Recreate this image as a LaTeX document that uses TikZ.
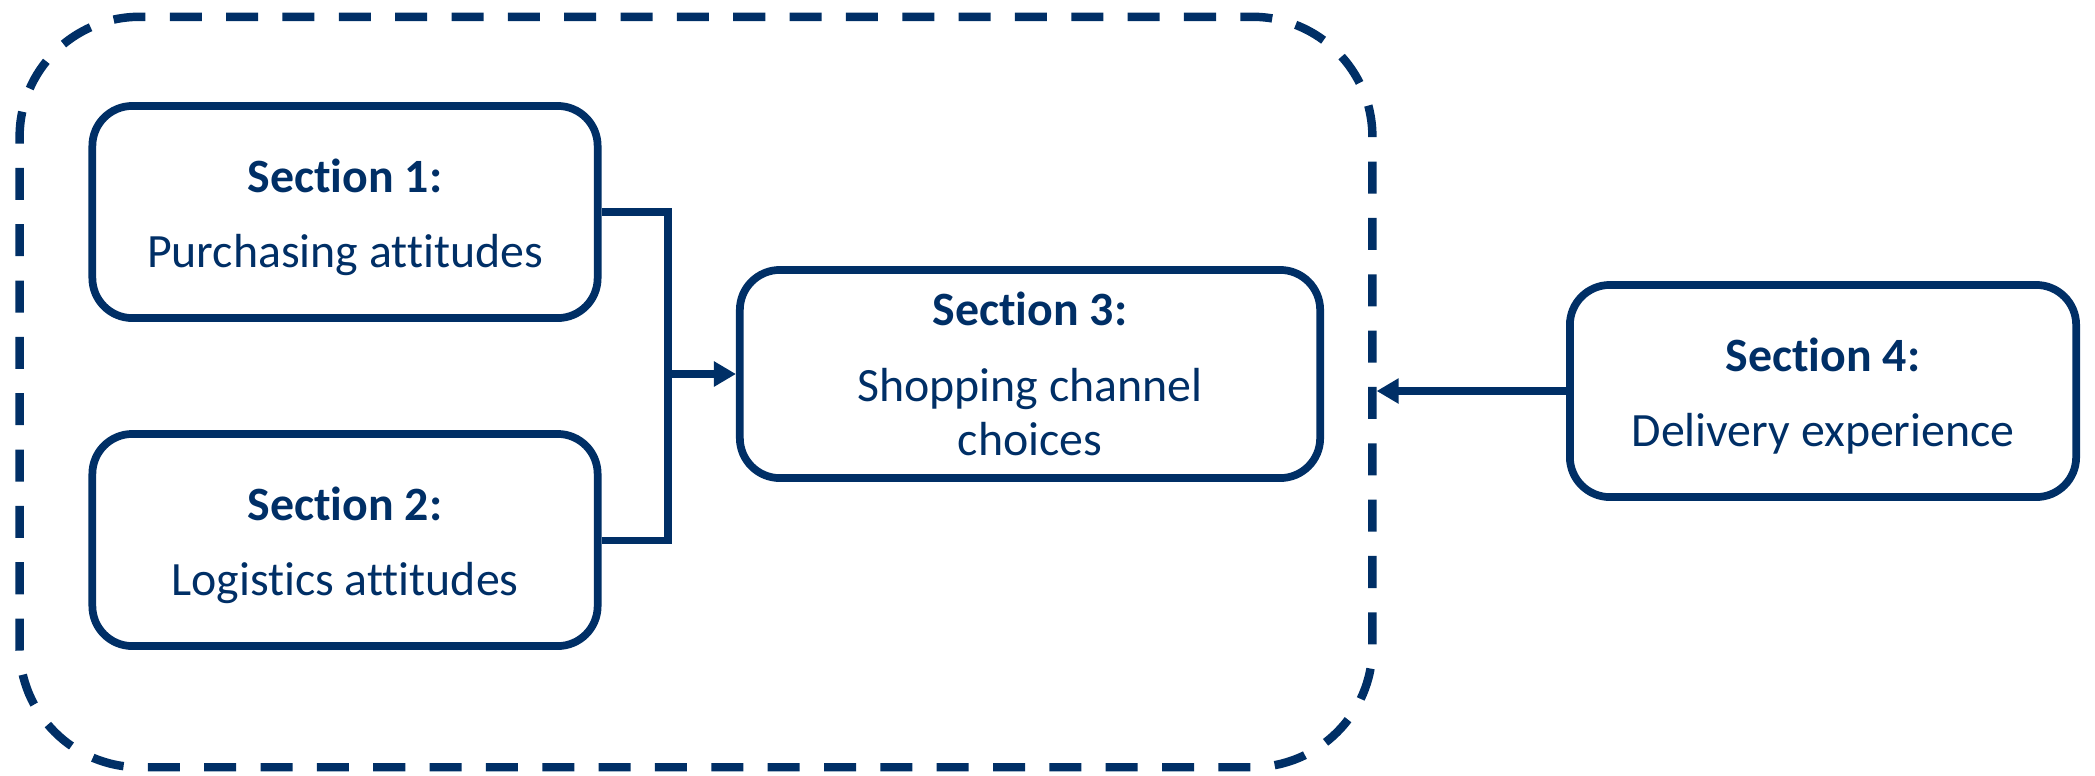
\documentclass[tikz,border=0pt]{standalone}
\usepackage{fontspec}
\setmainfont{Carlito}[Ligatures=NoCommon]
\usetikzlibrary{arrows.meta}
\definecolor{navy}{RGB}{0,47,102}
\newcommand{\headstrut}{\rule{0pt}{12.5pt}}
\tikzset{
	secbox/.style={draw=navy, line width=2.2pt, rounded corners=0.4cm, fill=white,
		text=navy, align=center, inner sep=0pt,
		font=\fontsize{13.6}{15.4}\selectfont},
	groupframe/.style={draw=navy, line width=2.4pt, rounded corners=1.2cm,
		dash pattern=on 0.32cm off 0.2431cm, dash phase=0.2cm, inner sep=0pt},
	link/.style={draw=navy, line width=2pt},
	linkarrow/.style={link, -{Triangle[length=0.22cm,width=0.24cm]}}
}

\begin{document}
\begin{tikzpicture}[x=0.01cm, y=-0.01cm]
			%%%%% START %%%%%
			\useasboundingbox (0, 0) rectangle (2095, 775);
			
			% dashed group round sections 1-3
			\node[groupframe, minimum width=13.52cm, minimum height=7.5cm] (grp) at (696, 392) {};
			
			\node[secbox, minimum width=5.05cm, minimum height=2.12cm] (sec1) at (345, 212)
				{\headstrut\textbf{Section 1:}\\[6pt]Purchasing attitudes};
			\node[secbox, minimum width=5.05cm, minimum height=2.12cm] (sec2) at (345, 540)
				{\headstrut\textbf{Section 2:}\\[6pt]Logistics attitudes};
			\node[secbox, minimum width=5.80cm, minimum height=2.08cm] (sec3) at (1030, 374)
				{\textbf{Section 3:}\\[6pt]Shopping channel\\choices};
			\node[secbox, minimum width=5.06cm, minimum height=2.12cm] (sec4) at (1823, 391)
				{\headstrut\textbf{Section 4:}\\[6pt]Delivery experience};
			
			% 1 and 2 join, then feed 3
			\coordinate (jn) at (668, 374);
			\draw[link] (sec1.east) -| (jn);
			\draw[link] (sec2.east) -| (jn);
			\draw[linkarrow] (jn) -- (sec3.west);
			
			% 4 points back at the group
			\draw[linkarrow] (sec4.west) -- (sec4.west -| grp.east);
			
			%%%%% END %%%%%
		\end{tikzpicture}
\end{document}
